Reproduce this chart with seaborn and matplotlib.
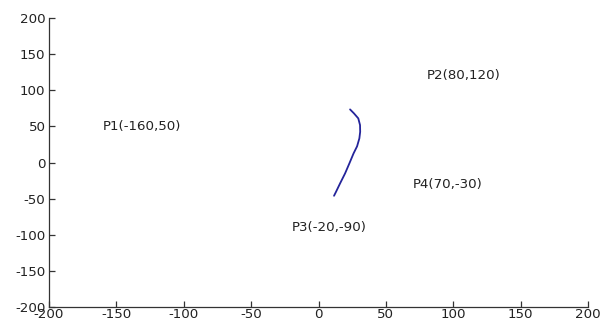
import pandas as pd
import matplotlib.pyplot as plt
import seaborn as sns

# curve
curve_x = [23.4, 26.3, 29.5, 30.8, 30.9, 30.3, 28.6, 26.0, 22.9, 19.7, 16.0, 13.0, 11.5]
curve_y = [73.6, 68.1, 61.2, 51.9, 42.6, 33.5, 22.5, 12.7, -1.1, -15.0, -28.8, -40.4, -46.0]

# control point labels
point_names = ["P1", "P2", "P3", "P4"]
point_x = [-160, 80, -20, 70]
point_y = [50, 120, -90, -30]

ticks = [-200, -150, -100, -50, 0, 50, 100, 150, 200]

sns.set_style("ticks")
plt.rcParams.update(
    {
        "font.family": ["DejaVu Sans"],
        "font.size": 9.6,
        "axes.unicode_minus": False,
        "xtick.major.pad": 1,
        "ytick.major.pad": 2.5,
        "axes.edgecolor": "#333333",
        "axes.linewidth": 0.9,
    }
)

fig = plt.figure(figsize=(6.08, 3.24), dpi=100)
ax = fig.add_axes([0.0806, 0.0525, 0.8866, 0.8915])

df = pd.DataFrame({"x": curve_x, "y": curve_y})
sns.lineplot(data=df, x="x", y="y", sort=False, color="#24249a", linewidth=1.3,
             ax=ax, solid_joinstyle="round", solid_capstyle="round")

for name, px, py in zip(point_names, point_x, point_y):
    ax.text(px, py, f"{name}({px},{py})", ha="left", va="center", color="#222222")

ax.set_xlim(-200, 200)
ax.set_ylim(-200, 200)
ax.set_xticks(ticks)
ax.set_yticks(ticks)
ax.tick_params(direction="in", length=4, width=0.9, color="#333333",
               labelcolor="#222222")
ax.set_xlabel("")
ax.set_ylabel("")
sns.despine(ax=ax)

fig.savefig("out.png", dpi=100)
